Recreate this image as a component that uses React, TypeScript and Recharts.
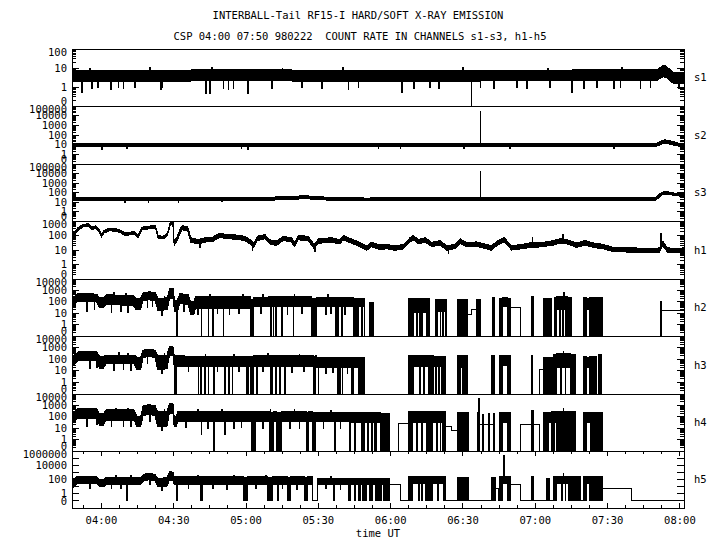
import React from 'react';
import { ComposedChart, Area, XAxis, YAxis, ReferenceArea } from 'recharts';

type Seg = [number, number, number]; // minutes after 04:00, low, high (0 = zero count)
type Drop = [number, number]; // minutes after 04:00, value reached by a short spike

// ---------- axis text ----------
const TITLE_1 = 'INTERBALL-Tail RF15-I HARD/SOFT X-RAY EMISSION';
const TITLE_2 = 'CSP 04:00 07:50 980222  COUNT RATE IN CHANNELS s1-s3, h1-h5';
const X_TITLE = 'time UT';
const PANEL_NAMES = ['s1', 's2', 's3', 'h1', 'h2', 'h3', 'h4', 'h5'];
const TIME_TICKS = [0, 30, 60, 90, 120, 150, 180, 210, 240];
const TIME_LABELS = ['04:00', '04:30', '05:00', '05:30', '06:00', '06:30', '07:00', '07:30', '08:00'];

const S1_LABELS: Drop[] = [[100, 100], [10, 10], [1, 1], [0.1, 0]];
const S23_LABELS: Drop[] = [[1e5, 100000], [1e4, 10000], [1000, 1000], [100, 100], [10, 10], [1, 1], [0.1, 0]];
const H1_LABELS: Drop[] = [[1000, 1000], [100, 100], [10, 10], [1, 1], [0.1, 0]];
const H234_LABELS: Drop[] = [[1e4, 10000], [1000, 1000], [100, 100], [10, 10], [1, 1], [0.1, 0]];
const H5_LABELS: Drop[] = [[1e6, 1000000], [1e4, 10000], [100, 100], [1, 1], [0.1, 0]];

// ---------- data ----------
const s1Band: Seg[] = [
  [-12.2, 2, 7.5], [60, 2.1, 8], [120, 2, 7.5], [230.5, 2.2, 8], [232, 3, 11], [233.2, 3.5, 14],
  [234.5, 3, 12], [236, 2, 8], [237.5, 1.5, 5.5], [241.7, 1.5, 5.5],
];
const s1Drops: Drop[] = [
  [-8.3, 0.5], [-5, 10], [-4.1, 0.8], [-1.7, 0.9], [3.9, 0.7], [6.9, 0.9], [9.0, 0.8], [13.8, 0.9], [20, 10.5],
  [24.6, 0.7], [25.2, 0.9], [43.2, 0.47], [45, 0.47], [45.8, 11], [50.5, 0.8], [52.6, 0.7], [54.6, 0.8],
  [60.6, 0.45], [70.5, 0.8], [75, 10], [83, 0.9], [91.3, 0.8], [100, 10.5], [102.4, 0.7], [106.5, 0.9],
  [124.6, 0.5], [129.4, 0.8], [136.3, 0.9], [139.8, 0.8], [150, 11], [153.4, 0], [157.1, 0.9], [162.6, 0.8],
  [172.3, 0.9], [176.5, 0.8], [185, 10], [186.1, 0.9], [195.1, 0.5], [200, 0.8], [205.5, 0.9], [212.4, 0.8],
  [215.2, 0.9], [215.8, 10.5], [223.5, 0.8], [227.6, 0.9], [239.4, 0.8],
];

const s2Band: Seg[] = [
  [-12.2, 7, 14], [230.5, 7, 14], [232, 10, 22], [233.5, 15, 32], [235.5, 12, 28], [237.5, 9, 20],
  [239.5, 7, 14], [241.7, 6.5, 13],
];
const s2Drops: Drop[] = [
  [0, 3.5], [10.4, 4], [58, 4], [60.8, 3.5], [114.8, 4], [123.9, 4], [150.2, 4.5], [157.1, 25000],
  [169.5, 4], [212.4, 4.5],
];

const s3Band: Seg[] = [
  [-12.2, 13, 27], [68, 14, 28], [75, 18, 38], [85, 22, 45], [95, 15, 30], [110, 13, 26], [129, 16, 30],
  [145, 13, 27], [229.5, 13, 27], [231, 25, 50], [232.3, 50, 100], [233.5, 70, 125], [236, 60, 110],
  [238.5, 45, 80], [241.7, 38, 65],
];
const s3Drops: Drop[] = [[9.7, 10], [19.4, 10], [31.8, 10], [50, 11], [157.1, 15000]];

const h1Band: Seg[] = [
  [-12.2, 80, 125], [-11.1, 110, 175], [-9.7, 230, 350], [-7.6, 390, 590], [-5.5, 430, 650],
  [-3.9, 250, 380], [-2.5, 310, 470], [-1.1, 185, 285], [0, 80, 120], [1.1, 148, 225], [3.5, 215, 325],
  [6.2, 185, 285], [8.3, 148, 225], [9.7, 98, 148], [12.4, 115, 175], [13.8, 115, 175], [15.2, 68, 103],
  [16.9, 250, 380], [19.4, 280, 430], [22.4, 330, 500], [23.5, 68, 103], [25.6, 57, 87], [27.4, 98, 148],
  [28.4, 430, 650], [29.6, 720, 1000], [30.2, 20, 40], [31.5, 45, 88], [32.5, 130, 255], [33.5, 250, 490],
  [35.8, 200, 400], [37.1, 35, 70], [40.1, 26, 52], [42.9, 35, 70], [46.3, 40, 79], [49.1, 76, 150],
  [51.2, 62, 122], [55.3, 56, 112], [59.5, 45, 89], [62, 24, 48], [63.3, 15, 31], [64.7, 45, 89],
  [67.8, 59, 117], [69.8, 26, 52], [72.6, 20, 41], [75.4, 45, 89], [78.8, 35, 70], [80.2, 17, 34],
  [81.6, 50, 100], [85.7, 45, 89], [88.2, 13, 26], [90.2, 29, 59], [95.4, 35, 70], [98.9, 26, 52],
  [100.3, 50, 100], [103.7, 29, 59], [107.2, 17, 34], [110, 9.3, 19], [112, 17, 34], [115.4, 11, 22],
  [118.4, 12, 24], [121.8, 9.3, 19], [125.3, 12, 24], [128, 35, 70], [129.4, 50, 100], [131.5, 26, 52],
  [134.3, 36, 71], [137, 17, 34], [140.5, 22, 45], [143.3, 9.3, 19], [146.7, 13, 25], [148.8, 29, 59],
  [151.6, 17, 34], [155.7, 18, 36], [159.9, 12, 24], [161.9, 9.3, 19], [164, 20, 41], [167.1, 35, 70],
  [170.2, 10, 20], [174.4, 12, 24], [177.8, 15, 31], [179.5, 15, 31], [183.4, 17, 34], [187.5, 22, 45],
  [190.3, 29, 59], [193.1, 26, 52], [197.2, 15, 31], [200.7, 22, 45], [204.1, 15, 31], [208.3, 12, 24],
  [212.4, 7.6, 15], [220.7, 7.1, 14], [229, 6.3, 12.5], [231.5, 7.1, 14], [232.9, 20, 41], [234.8, 7.1, 14],
  [238.7, 6.6, 13], [241.7, 7.1, 14],
];
const h1Drops: Drop[] = [[29.7, 1100], [178.7, 70], [191.4, 120], [232.1, 140], [40.8, 15], [62.5, 10], [88.4, 8], [143.8, 6]];

const h2Band: Seg[] = [
  [-12.2, 37, 200], [-11, 60, 300], [-10, 100, 500], [-2, 100, 480], [-0.7, 30, 220], [0.8, 30, 220],
  [2, 55, 400], [13, 50, 380], [14.5, 20, 200], [16.2, 20, 200], [17.3, 130, 650], [19.8, 150, 750],
  [22.3, 120, 650], [23.5, 17, 200], [27.3, 20, 220], [28.3, 200, 1500], [29.8, 200, 1500], [30.3, 13, 140],
  [31.5, 13, 140], [32.5, 70, 500], [36, 60, 450], [37, 7, 100], [38.3, 7, 100], [39, 27, 280], [62, 27, 280],
  [62, 0, 150], [63.3, 35, 250], [69.2, 35, 280], [87.1, 0, 200], [89.2, 37, 250], [104.4, 0, 200],
  [106.5, 37, 200], [109, 0, 0], [111.1, 0, 80], [113, 0, 0], [127.4, 0, 200], [129.4, 12, 180],
  [134.9, 0, 180], [136.3, 0, 0], [138.4, 15, 160], [143, 0, 0], [147.7, 0, 160], [151.8, 7, 7],
  [153.6, 22, 22], [155.7, 0, 150], [157.4, 0, 0], [162.4, 0, 250], [163.2, 0, 0], [165.1, 0, 200],
  [166.5, 40, 220], [168.4, 0, 200], [169.8, 33, 33], [174, 0, 0], [178.5, 0, 300], [179.4, 0, 0],
  [183.4, 0, 200], [186.8, 0, 0], [187.8, 0, 250], [189, 20, 300], [193.5, 0, 250], [195.1, 0, 0],
  [200, 0, 250], [201.4, 20, 200], [202.6, 0, 250], [208, 0, 0], [231.8, 0, 100], [232.5, 17, 17],
];
const h2Drops: Drop[] = [
  [-6, 15], [-3, 20], [4, 12], [5, 600], [8, 15], [10, 550], [11, 12], [19, 30], [21, 40], [25, 6], [26, 320],
  [34, 15], [40, 8], [45, 420], [48, 10], [53, 8], [57, 10], [58.5, 400], [66, 10], [67, 420], [77, 8],
  [80, 430], [83, 10], [93, 8], [94, 400], [95, 10], [101, 8],
  [31.1, 0], [41.4, 0], [44.3, 0], [46.1, 0], [50.5, 0], [70.1, 0], [71.2, 0], [72.2, 0], [74.7, 0],
  [79.5, 0], [97.2, 0], [97.9, 0], [99.6, 0], [107.9, 0], [130.8, 0], [131.9, 0], [132.9, 0], [139.1, 0],
  [140.5, 0], [141.6, 0], [142.7, 0], [190.2, 0], [191.4, 0], [191.8, 600], [192.5, 0],
];

const h3Band: Seg[] = [
  [-12.2, 22, 170], [-10.5, 50, 300], [-9.5, 75, 450], [-2, 70, 420], [-0.7, 16, 170], [0.8, 16, 170],
  [2, 40, 230], [13.5, 40, 230], [14.8, 12, 150], [16.3, 12, 150], [17.3, 140, 600], [19.8, 170, 750],
  [22.3, 140, 600], [23.3, 12, 200], [27.2, 15, 220], [28.2, 200, 1200], [29.7, 200, 1200], [30.2, 22, 230],
  [33.9, 22, 200], [36, 22, 170], [62, 22, 170],
  [62, 0, 170], [62.9, 22, 200],
  [87.8, 0, 170], [88.8, 22, 200], [89.2, 20, 150], [97.9, 0, 150], [99.3, 20, 150], [103.7, 0, 150],
  [104.4, 20, 150], [106.5, 0, 150], [109, 0, 0], [127.4, 0, 200], [129.4, 25, 200], [135.5, 0, 200],
  [137.7, 25, 180], [142, 0, 180], [142.6, 0, 0], [147.7, 0, 200], [148.8, 20, 200], [150, 0, 200],
  [151.8, 0, 0], [161.9, 0, 200], [162.9, 0, 0], [165.1, 0, 200], [166.3, 30, 220], [168.6, 0, 200],
  [169.8, 0, 0], [178.3, 0, 230], [179, 0, 0], [181.7, 13, 13], [183.4, 0, 150], [187.5, 0, 250],
  [189, 20, 300], [194.5, 0, 250], [196.5, 0, 0], [200, 0, 180], [201.4, 20, 150], [202.6, 0, 180],
  [205.2, 0, 0], [206.2, 0, 250], [207.6, 0, 0],
];
const h3Drops: Drop[] = [
  [-5, 15], [-2, 20], [5, 10], [7, 350], [9, 12], [11, 320], [12, 10], [19, 40], [25, 6], [26, 300], [36, 8],
  [43, 280], [48, 8], [55, 260], [57, 9], [67, 8], [69, 300], [79, 7], [82, 280], [84, 8], [93, 6], [96, 7],
  [102, 6],
  [30.2, 0], [30.7, 0], [40.1, 0], [41.2, 0], [42.7, 0], [44.3, 0], [46.7, 0], [51.2, 0], [52.8, 0],
  [54.2, 0], [60.2, 0], [60.8, 0], [64.3, 0], [70.3, 0], [70.8, 0], [72.2, 0], [74, 0], [76, 0], [89.9, 0],
  [99.9, 0], [131.9, 0], [133.6, 0], [138.8, 0], [140, 0], [141.3, 0], [190.5, 0], [191.6, 500], [192.4, 0],
];

const h4Band: Seg[] = [
  [-12.2, 27, 200], [-10.8, 50, 350], [-9.8, 74, 550], [-2, 70, 520], [-0.7, 19, 180], [0.8, 19, 180],
  [2, 52, 400], [13.5, 52, 400], [14.8, 13, 100], [16.3, 13, 100], [17.3, 130, 900], [19.8, 160, 1200],
  [22.3, 130, 900], [23.3, 13, 280], [27.2, 15, 300], [28.2, 200, 1500], [29.7, 200, 1500], [30.2, 13, 100],
  [31.1, 13, 100], [31.6, 37, 280], [62.2, 37, 280],
  [62.2, 0, 280], [64, 37, 280],
  [69.6, 0, 250], [71.5, 37, 280], [72.8, 0, 250], [74.9, 37, 280], [85.1, 0, 250], [85.8, 37, 280],
  [87.7, 0, 250], [88.7, 35, 250], [102.8, 0, 220], [103.3, 30, 220], [104.8, 0, 220], [105.3, 30, 220],
  [107.9, 0, 220], [109.3, 30, 220], [112, 0, 220], [112.5, 30, 220], [113.4, 0, 220], [114, 30, 220],
  [115.6, 0, 200], [119.7, 0, 0], [123.2, 27, 27], [127.4, 0, 300], [129, 30, 300], [135, 0, 300],
  [137.5, 30, 280], [141.5, 0, 280], [142.6, 15, 15], [145.3, 6, 6], [147.7, 0, 250], [152.3, 0, 0],
  [156, 0, 250], [156.8, 20, 20], [158, 0, 150], [158.5, 20, 20], [160.5, 0, 200], [161.2, 20, 20],
  [162.5, 0, 200], [163.2, 0, 0], [165.1, 0, 250], [166.3, 30, 250], [168.6, 0, 250], [169.8, 0, 0],
  [173.7, 20, 20], [178.5, 0, 350], [179.3, 20, 20], [181.7, 0, 0], [183.4, 0, 250], [185.4, 30, 250],
  [186.8, 0, 280], [188, 30, 280], [189, 0, 300], [196.8, 0, 0], [200, 0, 220], [201.4, 30, 220],
  [203, 0, 220], [208, 0, 0],
];
const h4Drops: Drop[] = [
  [-6, 15], [-2, 20], [4, 15], [6, 550], [9, 14], [11, 520], [12, 15], [20, 40], [25, 6], [26, 420], [35, 12],
  [40, 400], [44, 10], [50, 420], [55, 10], [58, 12], [67, 10], [70, 400], [78, 10], [80, 420], [82, 9],
  [92, 10], [95, 380], [99, 10],
  [41.4, 3], [46.6, 0], [51.2, 3], [96.7, 0], [110.6, 0], [130.8, 0], [132.9, 0], [139.1, 0], [140.5, 0],
  [156.4, 4000], [191.6, 500],
];

const h5Band: Seg[] = [
  [-12.2, 6, 85], [-10.8, 15, 180], [-9.7, 30, 300], [-2, 28, 280], [-0.7, 10, 100], [0.8, 10, 100],
  [2, 17, 200], [16.2, 17, 200], [17.5, 60, 500], [19.8, 90, 800], [22.3, 60, 500], [23.3, 10, 150],
  [27.2, 12, 170], [28.2, 85, 1200], [29.7, 85, 1100], [30.2, 17, 250], [58.8, 17, 250],
  [58.8, 0, 200], [60.8, 17, 250], [69, 0, 200], [71, 17, 250],
  [77.4, 0, 200], [78.4, 17, 250], [84.4, 0, 200], [85.5, 17, 250], [87.6, 0, 0], [89.6, 17, 150],
  [102.4, 0, 150], [103.5, 17, 150], [106.5, 0, 150], [107.5, 17, 150], [108.4, 0, 150], [109.8, 17, 150],
  [111.3, 0, 150], [112.6, 17, 150], [113.7, 0, 150], [116.2, 17, 150], [117, 0, 150], [119.7, 17, 17],
  [123.9, 0, 0], [127.4, 0, 250], [129, 25, 250], [134.5, 0, 250], [137.2, 25, 250], [141.8, 0, 250],
  [142.6, 0, 0], [147.7, 0, 200], [152.3, 0, 0], [161.9, 0, 200], [163.3, 6, 6], [164.7, 0, 0],
  [165.1, 0, 250], [166.3, 25, 250], [168.6, 0, 250], [169.8, 17, 17], [174, 0, 0], [178.5, 0, 300],
  [179.4, 0, 0], [184.8, 0, 150], [186.1, 0, 0], [187.5, 0, 300], [189, 25, 300], [193.8, 0, 300],
  [198.6, 0, 0], [200, 0, 250], [201.4, 25, 250], [202.6, 0, 250], [208, 6, 6], [220, 0, 0],
];
const h5Drops: Drop[] = [
  [-5, 5], [4, 6], [6, 350], [8, 5], [12, 330], [20, 20], [25, 3], [36, 5], [40, 380], [46, 5], [52, 4],
  [55, 350], [64, 5], [68, 330], [75, 5], [81, 4], [93, 5], [95, 260], [99, 4],
  [10.4, 0], [31.1, 0], [41.2, 0], [41.8, 0], [73.2, 0], [96.4, 0], [105.1, 0], [131.5, 0], [133, 0],
  [139.5, 0], [166.8, 200000], [190.8, 0], [191.6, 600], [192.4, 0],
];

// ---------- layout ----------
const LEFT = 72;
const RIGHT = 684;
const PAD = 3;
const T_MIN = -12.2;
const T_MAX = 241.7;
const TOPS = [49, 106, 164, 221, 279, 336, 394, 451, 508];
const FONT = '"DejaVu Sans Mono", "Liberation Mono", monospace';
const AXIS_H = 36;

type Panel = {
  band: Seg[]; drops: Drop[]; smoothUntil: number; min: number; max: number; floor: number;
  labels: Drop[]; minors: boolean;
};

const PANELS: Panel[] = [
  { band: s1Band, drops: s1Drops, smoothUntil: 1e9, min: 0.1, max: 100, floor: 0.1, labels: S1_LABELS, minors: true },
  { band: s2Band, drops: s2Drops, smoothUntil: 1e9, min: 0.1, max: 1e5, floor: 0.1, labels: S23_LABELS, minors: true },
  { band: s3Band, drops: s3Drops, smoothUntil: 1e9, min: 0.1, max: 1e5, floor: 0.1, labels: S23_LABELS, minors: true },
  { band: h1Band, drops: h1Drops, smoothUntil: 1e9, min: 0.1, max: 1000, floor: 0.1, labels: H1_LABELS, minors: true },
  { band: h2Band, drops: h2Drops, smoothUntil: 62, min: 0.1, max: 1e4, floor: 0.1, labels: H234_LABELS, minors: true },
  { band: h3Band, drops: h3Drops, smoothUntil: 62, min: 0.1, max: 1e4, floor: 0.1, labels: H234_LABELS, minors: true },
  { band: h4Band, drops: h4Drops, smoothUntil: 62.2, min: 0.1, max: 1e4, floor: 0.1, labels: H234_LABELS, minors: true },
  { band: h5Band, drops: h5Drops, smoothUntil: 58.8, min: 0.01, max: 1e6, floor: 0.1, labels: H5_LABELS, minors: false },
];

function bandAt(p: Panel, t: number): [number, number] {
  const band = p.band;
  let i = 0;
  while (i + 1 < band.length && band[i + 1][0] <= t) i++;
  const a = band[i];
  const z = (v: number) => (v <= 0 ? p.floor : v);
  if (i + 1 >= band.length || t <= a[0] || a[0] >= p.smoothUntil) return [z(a[1]), z(a[2])];
  const b = band[i + 1];
  const f = (t - a[0]) / (b[0] - a[0]);
  const mix = (u: number, w: number) => {
    const lu = Math.log10(z(u));
    const lw = Math.log10(z(w));
    return Math.pow(10, lu + (lw - lu) * f);
  };
  return [mix(a[1], b[1]), mix(a[2], b[2])];
}

function buildRows(p: Panel) {
  const W = 0.3;
  const rows: { t: number; r: [number, number]; k: number }[] = [];
  let k = 0;
  p.band.forEach(([t], i) => {
    if (i + 1 < p.band.length && p.band[i + 1][0] === t) return;
    if (i > 0 && t >= p.smoothUntil) rows.push({ t, r: bandAt(p, t - 1e-6), k: k++ });
    rows.push({ t, r: bandAt(p, t), k: k++ });
  });
  p.drops.forEach(([t, v]) => {
    const b0 = bandAt(p, t);
    const b1 = bandAt(p, t + W);
    const vv = v <= 0 ? p.floor : v;
    const d0: [number, number] = [Math.min(b0[0], vv), Math.max(b0[1], vv)];
    const d1: [number, number] = [Math.min(b1[0], vv), Math.max(b1[1], vv)];
    rows.push({ t, r: b0, k: k++ }, { t, r: d0, k: k++ }, { t: t + W, r: d1, k: k++ }, { t: t + W, r: b1, k: k++ });
  });
  const last = p.band[p.band.length - 1];
  if (last[0] < T_MAX) rows.push({ t: T_MAX, r: bandAt(p, T_MAX), k: k++ });
  rows.sort((a, b) => a.t - b.t || a.k - b.k);
  return rows;
}

function yTicks(p: Panel): number[] {
  const out: number[] = [];
  const e0 = Math.round(Math.log10(p.min));
  const e1 = Math.round(Math.log10(p.max));
  for (let e = e0; e <= e1; e++) {
    const d = Math.pow(10, e);
    out.push(d);
    if (p.minors && e < e1) for (let m = 2; m <= 9; m++) out.push(m * d);
  }
  return out;
}

const isDecade = (v: number) => Math.abs(Math.log10(v) - Math.round(Math.log10(v))) < 1e-6;

const X_TICKS: number[] = (() => {
  const out: number[] = [];
  for (let k = -1; k <= 32; k++) {
    const t = k * 7.5;
    if (t > T_MIN && t < T_MAX) out.push(t);
  }
  return out;
})();

const fmtTime = (t: number) => {
  const i = TIME_TICKS.indexOf(t);
  return i >= 0 ? TIME_LABELS[i] : '';
};

function PanelChart({ p, idx }: { p: Panel; idx: number }) {
  const ph = TOPS[idx + 1] - TOPS[idx];
  const last = idx === PANELS.length - 1;
  const axisH = last ? AXIS_H : 0;
  const rows = buildRows(p);
  const top = PAD;
  const bottom = PAD + ph;

  const renderY = (props: any) => {
    const y = props.y;
    const v = props.payload.value;
    const major = isDecade(v);
    const len = major ? 7 : 4;
    const lab = major ? p.labels.find((l) => Math.abs(Math.log10(l[0]) - Math.log10(v)) < 1e-6) : undefined;
    const ly = Math.max(top + 3.5, Math.min(bottom - 5, y));
    return (
      <g>
        <line x1={LEFT} x2={LEFT + len} y1={y} y2={y} stroke="#000" strokeWidth={1} />
        <line x1={RIGHT - len} x2={RIGHT} y1={y} y2={y} stroke="#000" strokeWidth={1} />
        {lab ? (
          <text x={LEFT - 5} y={ly} dy="0.35em" textAnchor="end" fontFamily={FONT} fontSize={10.5} fill="#000">
            {String(lab[1])}
          </text>
        ) : null}
      </g>
    );
  };

  const renderX = (props: any) => {
    const x = props.x;
    const t = props.payload.value;
    const major = TIME_TICKS.indexOf(t) >= 0;
    const len = major ? 5 : 3;
    return (
      <g>
        <line x1={x} x2={x} y1={bottom} y2={bottom - len} stroke="#000" strokeWidth={1} />
        <line x1={x} x2={x} y1={top} y2={top + len} stroke="#000" strokeWidth={1} />
        {last && major ? (
          <text x={x} y={bottom + 12} dy="0.35em" textAnchor="middle" fontFamily={FONT} fontSize={10.5} fill="#000">
            {fmtTime(t)}
          </text>
        ) : null}
      </g>
    );
  };

  return (
    <div style={{ position: 'absolute', left: 0, top: TOPS[idx] - PAD }}>
      <ComposedChart
        width={720}
        height={ph + 2 * PAD + axisH}
        data={rows}
        margin={{ top: PAD, right: 720 - RIGHT, bottom: PAD, left: 0 }}
      >
        <XAxis
          dataKey="t"
          type="number"
          domain={[T_MIN, T_MAX]}
          allowDataOverflow
          ticks={X_TICKS}
          interval={0}
          height={axisH}
          axisLine={false}
          tickLine={false}
          tick={renderX}
        />
        <YAxis
          type="number"
          scale="log"
          domain={[p.min, p.max]}
          allowDataOverflow
          ticks={yTicks(p)}
          interval={0}
          width={LEFT}
          axisLine={false}
          tickLine={false}
          tick={renderY}
        />
        <Area
          dataKey="r"
          type="linear"
          stroke="#000"
          strokeWidth={1}
          fill="#000"
          fillOpacity={1}
          dot={false}
          activeDot={false}
          isAnimationActive={false}
        />
        <ReferenceArea x1={T_MIN} x2={T_MAX} y1={p.min} y2={p.max} fill="none" fillOpacity={0} stroke="#000" strokeWidth={1} />
      </ComposedChart>
    </div>
  );
}

export default function App() {
  return (
    <div
      style={{
        position: 'absolute', left: 0, top: 0, width: 720, height: 550, background: '#fff',
        overflow: 'hidden', shapeRendering: 'crispEdges' as any,
      }}
    >
      <svg width={720} height={550} style={{ position: 'absolute', left: 0, top: 0 }}>
        <text x={358} y={15} dy="0.35em" textAnchor="middle" fontFamily={FONT} fontSize={10.5} fill="#000">{TITLE_1}</text>
        <text x={360} y={36} dy="0.35em" textAnchor="middle" fontFamily={FONT} fontSize={10.5} fill="#000" style={{ whiteSpace: 'pre' }}>{TITLE_2}</text>
        <text x={378} y={533} dy="0.35em" textAnchor="middle" fontFamily={FONT} fontSize={10.5} fill="#000">{X_TITLE}</text>
        {PANEL_NAMES.map((n, i) => (
          <text key={n} x={694} y={(TOPS[i] + TOPS[i + 1]) / 2} dy="0.35em" fontFamily={FONT} fontSize={10.5} fill="#000">{n}</text>
        ))}
      </svg>
      {PANELS.map((p, i) => (
        <PanelChart key={i} p={p} idx={i} />
      ))}
    </div>
  );
}
